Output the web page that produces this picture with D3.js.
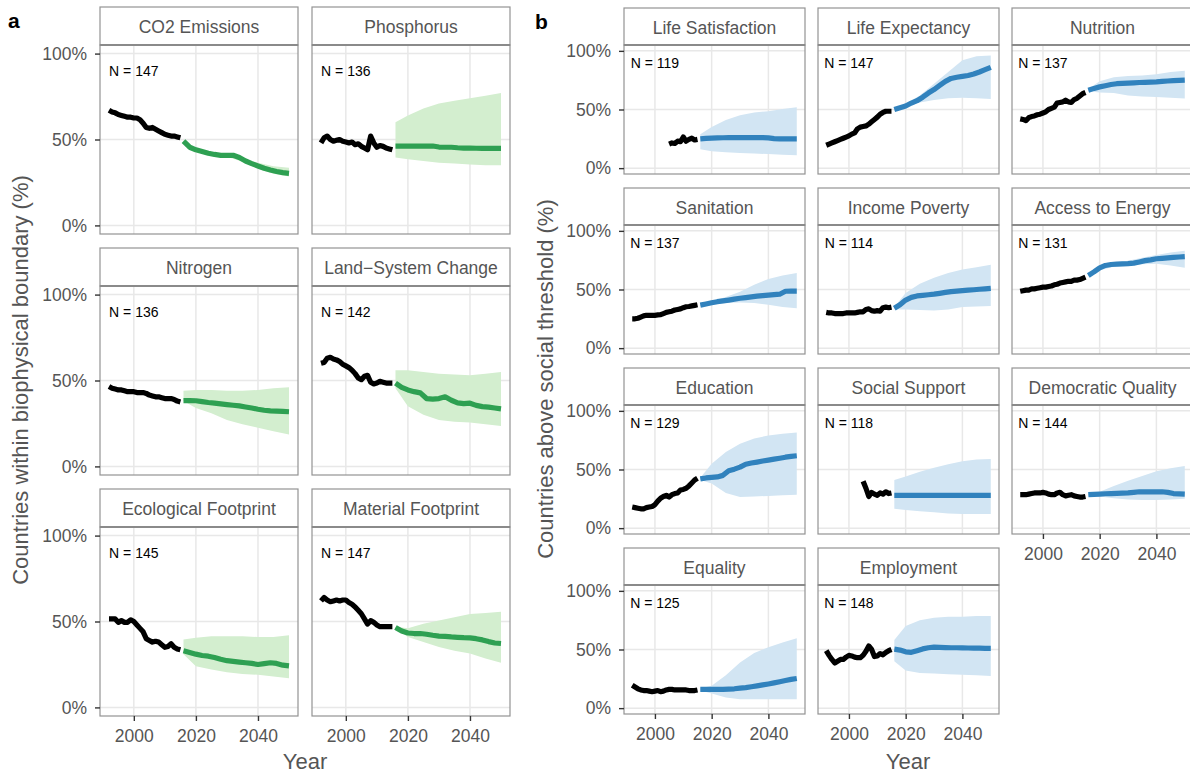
<!DOCTYPE html>
<html>
<head>
<meta charset="utf-8">
<script src="https://cdn.jsdelivr.net/npm/d3@7"></script>
<style>
  body { margin: 0; background: #fff; }
  svg text { font-family: "Liberation Sans", Arial, Helvetica, sans-serif; }
</style>
</head>
<body>
<svg id="chart" width="1190" height="773"></svg>
<script>
// ---- shared axis values -------------------------------------------------
const histYears = [1992,1993,1994,1995,1996,1997,1998,1999,2000,2001,2002,2003,
                   2004,2005,2006,2007,2008,2009,2010,2011,2012,2013,2014,2015];
const midYears  = [2016,2018,2020,2022,2024,2026,2028,2030,2032,2034,2036,2038,
                   2040,2042,2044,2046,2048,2050];
const bandYears = [2016,2020,2025,2030,2035,2040,2045,2050];
const yTickValues = [0, 50, 100];
const xTickValues = [2000, 2020, 2040];

// ---- a: biophysical boundaries -----------------------------------------
const bioNames = ["CO2 Emissions", "Phosphorus", "Nitrogen", "Land\u2212System Change",
                  "Ecological Footprint", "Material Footprint"];
const bioN = [147, 136, 136, 142, 145, 147];
const bioHist = [
  [67,66,65.5,64.5,64,63.5,63,63,62.5,62.5,61.5,59.5,57,56.5,57,56,55,54,53,52.5,52,52,51.5,51],
  [48,51,52,50,49,49.5,50,49,48.5,48,48.5,47,47.5,46,45,44,52,48,45.5,46.5,46,45,44.5,44],
  [46.5,45.5,45,44.5,44.5,44,43.5,43.5,43.5,43,43,43,42.5,41.5,41,40.5,40.5,40,39.5,39.5,39.5,39,38,37.5],
  [60,60.5,63,63.5,62.5,62,61,59.5,58.5,57.5,56,54,51.5,50.5,52.5,53,49,48,48.5,49.5,49,48.5,48.5,48.5],
  [51.5,51.5,51.5,49.5,50.5,49.5,49.5,51,50,48,46,44,40,39,38,38.5,38,36.5,35,35.5,37,35,34,33.5],
  [62,64,62.5,61.5,62,62.5,62,62.5,62.5,61,60,58.5,56.5,54.5,51.5,48.5,50.5,49.5,48,47,47,47,47,47]
];
const bioMid = [
  [49,45.5,44,43,42,41.3,40.8,40.8,40.8,39.5,37.5,36,34.6,33.3,32.3,31.4,30.7,30.3],
  [46.2,46.2,46.2,46.2,46.2,46.2,46.2,45.6,45.5,45.5,45.2,45,45,44.9,44.8,44.8,44.8,44.8],
  [38.3,38.3,38.2,37.7,37.2,36.8,36.4,36,35.6,35.2,34.6,34,33.3,32.7,32.3,32.2,32,31.8],
  [48.5,46,44.5,43.5,42.8,39.5,39.2,39.5,40.5,38.5,37,36.5,36.8,35.5,34.8,34.5,34,33.5],
  [33,32,31,30.2,29.8,29,28,27.2,26.8,26.4,26,25.6,25,25.5,26,25.6,24.6,24.2],
  [46.5,44.5,43.3,43,43,42.6,42,41.5,41.3,41,40.8,40.6,40.5,40,39.3,38.3,37.5,37.2]
];
const bioLo = [
  [48.5,43.5,41,40,37,33,30,28.5],
  [39.5,38.5,37.5,36.5,36,35.5,35,35],
  [38,34,31,27,24.5,22.5,20.5,18.5],
  [45.5,35,30,27,26,25.5,24.5,23.5],
  [31,24,22,20.5,19.5,19,18,17],
  [46,41,38,35.2,33,31.4,28.5,26]
];
const bioHi = [
  [49.5,44.5,42.5,42,39,36.5,34.5,33.5],
  [60,64,68,71,72.5,74,75.5,77],
  [44,44.5,44.5,44,44,44.5,45.5,46],
  [56,56,55,54,53.5,53,54,55],
  [39.5,40.5,41.4,41.4,41.4,41,41,42],
  [47,46,48.7,50.6,52.5,54.4,55,55.7]
];

// ---- b: social thresholds ----------------------------------------------
const socNames = ["Life Satisfaction", "Life Expectancy", "Nutrition",
                  "Sanitation", "Income Poverty", "Access to Energy",
                  "Education", "Social Support", "Democratic Quality",
                  "Equality", "Employment"];
const socN = [119, 147, 137, 137, 114, 131, 129, 118, 144, 125, 148];
const socHistStart = [2005, 1992, 1992, 1992, 1992, 1992, 1992, 2005, 1992, 1992, 1992];
const socHist = [
  [20.5,21.5,21,23,22.5,26.5,23,24.5,25.5,24,24.5],
  [19.5,20.5,21.5,22.5,23.5,24.5,25.5,26.5,27.5,29,30,33.5,35,35.5,36,37.5,39.5,41.5,43.5,46,47.5,48.5,48.5,48.5],
  [42,41.5,40.5,43,44,44.5,45.5,46,47,48,50,51,52,55.5,56,56.5,58,56.5,56,58.5,59.5,61.5,63.5,64.5],
  [25,25,25.5,26.5,27.5,28,28,28,28,28.3,28.5,29.5,30.5,31,31.5,32.5,33,33.5,34.5,35.3,35.5,36,36.5,37],
  [30.5,30,30,29.5,29.5,29.5,29.5,30,30,30,30,30.5,31,31,33,33.5,32,31.5,32,31.5,34.5,35,34.5,35],
  [48.5,49,49.5,49.5,50.5,50.5,51,51.5,52,52,52.5,53,54,54.5,55.5,56,56.5,57,57,58,58,58.5,59.5,60.5],
  [18,17.5,17,16.5,16.5,17.5,18,18.5,20,23,25.5,27,28,26.5,28.5,29.5,30,32.5,33,34,36,38.5,41,42.5],
  [40,34,27,30.5,29,28,30,29,31,29.5,30],
  [28.5,28.5,28.5,29,29.5,30,30,30,30.5,30,29,28.5,28.5,30,30.5,28.5,27.5,28,28.5,27.5,27,26.5,26.5,27],
  [19.5,18,16.5,15.5,15,15,14.5,14,14.5,15,14,14.5,15.5,16,16,15.5,15.5,15.5,15.5,15.5,15,15,15,15.5],
  [49,45,41.5,38.5,40,41.5,41.5,43.5,45,44.5,43.5,43,43,45,48.5,53,50,44,44.5,46.5,45.5,47.5,49,50]
];
const socMid = [
  [25,25.4,25.6,25.8,25.9,26,26,26,26,26,26,26,25.8,25.2,25,25,25,25],
  [50,51.5,53,55.5,57.5,60.5,64,67,70.5,74,76.5,77.5,78.2,79,80.3,82,84,86],
  [66.5,68,69.3,70.3,71.3,72,72.3,72.5,72.7,73,73.2,73.4,73.6,74,74.3,74.6,74.8,75],
  [36.7,37.7,38.7,39.6,40.3,41,41.8,42.5,43.1,43.7,44.3,44.8,45.2,45.6,46,48.5,48.6,48.6],
  [34,37,41,43.3,44.5,45,45.5,46,46.7,47.5,48.2,48.6,49,49.4,49.8,50.2,50.6,51],
  [62,65,68.5,70.5,71.3,71.6,71.8,72,72.5,73.5,74.6,75.3,76.2,76.6,77,77.4,77.7,78],
  [42,42.8,43.3,43.7,45,49,50.3,52,54.5,55.5,56.3,57.2,58,58.8,59.6,60.5,61.2,61.7],
  [28,28,28,28,28,28,28,28,28,28,28,28,28,28,28,28,28,28],
  [28.5,28.8,29,29.3,29.5,29.6,29.8,30,30.5,31,31,31,31,31,30.5,29.5,29.2,29],
  [16,16,16,16,16,16.2,16.5,17,17.5,18.2,19,19.8,20.6,21.5,22.5,23.5,24.5,25.3],
  [50.3,49.5,48,47.6,49,50.5,51.5,52,51.8,51.6,51.5,51.5,51.4,51.3,51.2,51.1,51,51]
];
const socLo = [
  [16,14.5,13.5,13,12.5,12,11.5,11],
  [49,52,56,58,59.5,60,59.5,59],
  [65.5,64.5,64,62,61,60.7,60,59.3],
  [36,37.5,38.5,39,38.5,37,35,34],
  [33,33,32.5,32,33,35,35.5,36],
  [61,66.5,69.5,70,71.5,72,70.5,68.5],
  [41,38,30,26.5,27,27.5,28,28.5],
  [16.5,15.5,14.5,13.5,12.5,12,12,12],
  [28,27,25.5,24.5,24,24,24.5,25],
  [15,12.5,9,7.5,7.5,7.5,7.5,7.5],
  [40,32,30,29.5,29,28.5,28,27.5]
];
const socHi = [
  [29,35,41,45,47.5,48.5,50.5,52],
  [50.5,55,62,72,82,92,95.5,96],
  [67.5,74,77.5,78.5,79,80,82,83],
  [37.5,40,43.5,48,54,59,62,64],
  [35,47,55,60,64,67,69,71],
  [63,70,73,74.5,77,79.5,81.5,83],
  [43,55,65,72,76.5,79,80.5,81.5],
  [41,44,48,51.5,54.5,57,58.5,59],
  [29.5,31,36,40.5,44.5,48.5,51,53],
  [17,19,28,39,47,52,56,59.5],
  [58,70,75,77,78,78,78.5,78.5]
];

// ---- drawing ------------------------------------------------------------
const svg = d3.select("#chart");
const GRID = "#e8e8e8", BORDER = "#939393", TEXT = "#555555";
const FONT_TICK = 17.5, FONT_STRIP = 17.5, LINE_W = 5.2;

function drawPanel(p) {
  const py0 = p.top + p.stripH, py1 = py0 + p.ph;
  const x = d3.scaleLinear().domain([1989.1, 2052.9]).range([p.x0, p.x0 + p.w]);
  const y = d3.scaleLinear().domain([-5, 105]).range([py1, py0]);
  const g = svg.append("g");

  // panel background and grid
  g.append("rect").attr("x", p.x0).attr("y", py0).attr("width", p.w).attr("height", p.ph)
    .attr("fill", "#fff");
  g.selectAll(".gy").data(yTickValues).join("line")
    .attr("x1", p.x0).attr("x2", p.x0 + p.w)
    .attr("y1", d => y(d)).attr("y2", d => y(d))
    .attr("stroke", GRID).attr("stroke-width", 1.5);
  g.selectAll(".gx").data(xTickValues).join("line")
    .attr("x1", d => x(d)).attr("x2", d => x(d))
    .attr("y1", py0).attr("y2", py1)
    .attr("stroke", GRID).attr("stroke-width", 1.5);

  // projection uncertainty band
  const band = bandYears.map((yr, i) => ({ yr, lo: p.lo[i], hi: p.hi[i] }));
  g.append("path").datum(band)
    .attr("fill", p.bandColor)
    .attr("d", d3.area().x(d => x(d.yr)).y0(d => y(d.lo)).y1(d => y(d.hi)));

  // observed series
  const hist = p.hist.map((v, i) => ({ yr: p.histStart + i, v }));
  const line = d3.line().x(d => x(d.yr)).y(d => y(d.v));
  g.append("path").datum(hist)
    .attr("fill", "none").attr("stroke", "#000").attr("stroke-width", LINE_W)
    .attr("stroke-linejoin", "round").attr("d", line);

  // projected median
  const mid = midYears.map((yr, i) => ({ yr, v: p.mid[i] }));
  g.append("path").datum(mid)
    .attr("fill", "none").attr("stroke", p.lineColor).attr("stroke-width", LINE_W)
    .attr("stroke-linejoin", "round").attr("d", line);

  // sample size label
  g.append("text").attr("x", x(2000)).attr("y", y(90))
    .attr("text-anchor", "middle").attr("dominant-baseline", "central")
    .attr("font-size", 14).attr("fill", "#000").text("N = " + p.n);

  // panel border
  g.append("rect").attr("x", p.x0).attr("y", py0).attr("width", p.w).attr("height", p.ph)
    .attr("fill", "none").attr("stroke", BORDER).attr("stroke-width", 1.2);

  // facet strip
  g.append("rect").attr("x", p.x0).attr("y", p.top).attr("width", p.w).attr("height", p.stripH)
    .attr("fill", "#fff").attr("stroke", BORDER).attr("stroke-width", 1.2);
  g.append("line").attr("x1", p.x0).attr("x2", p.x0 + p.w).attr("y1", py0).attr("y2", py0)
    .attr("stroke", "#8a8a8a").attr("stroke-width", 2.2);
  g.append("text").attr("x", p.x0 + p.w / 2).attr("y", p.top + p.stripH / 2 + 1)
    .attr("text-anchor", "middle").attr("dominant-baseline", "central")
    .attr("font-size", FONT_STRIP).attr("fill", TEXT).text(p.name);

  // axes
  if (p.showY) {
    const ax = g.append("g").attr("transform", `translate(${p.x0},0)`)
      .call(d3.axisLeft(y).tickValues(yTickValues).tickFormat(d => d + "%")
        .tickSize(5).tickSizeOuter(0).tickPadding(8));
    styleAxis(ax);
  }
  if (p.showX) {
    const ax = g.append("g").attr("transform", `translate(0,${py1})`)
      .call(d3.axisBottom(x).tickValues(xTickValues).tickFormat(d3.format("d"))
        .tickSize(5).tickSizeOuter(0).tickPadding(9));
    styleAxis(ax);
  }
}

function styleAxis(ax) {
  ax.select(".domain").remove();
  ax.selectAll(".tick line").attr("stroke", "#333").attr("stroke-width", 1.4);
  ax.selectAll(".tick text").attr("fill", TEXT).attr("font-size", FONT_TICK)
    .attr("font-family", "Liberation Sans, Arial, sans-serif");
}

const GREEN = "#2ea052", GREEN_BAND = "#d3eecf";
const BLUE = "#3182bd", BLUE_BAND = "#d2e5f3";

// layout a: 2 columns x 3 rows
const aCols = [100, 312], aRows = [7, 248, 489];
bioNames.forEach((name, i) => {
  const c = i % 2, r = Math.floor(i / 2);
  drawPanel({
    x0: aCols[c], top: aRows[r], w: 198, stripH: 38, ph: 189,
    name, n: bioN[i], hist: bioHist[i], histStart: 1992,
    mid: bioMid[i], lo: bioLo[i], hi: bioHi[i],
    lineColor: GREEN, bandColor: GREEN_BAND,
    showY: c === 0, showX: r === 2
  });
});

// layout b: 3 columns x 4 rows
const bCols = [624, 818, 1012], bRows = [8, 188, 368, 548];
socNames.forEach((name, i) => {
  const c = i % 3, r = Math.floor(i / 3);
  drawPanel({
    x0: bCols[c], top: bRows[r], w: 181, stripH: 37, ph: 129,
    name, n: socN[i], hist: socHist[i], histStart: socHistStart[i],
    mid: socMid[i], lo: socLo[i], hi: socHi[i],
    lineColor: BLUE, bandColor: BLUE_BAND,
    showY: c === 0, showX: r === 3 || (r === 2 && c === 2)
  });
});

// axis titles and panel letters
function title(x, y, txt, rotate) {
  svg.append("text").attr("x", x).attr("y", y)
    .attr("transform", rotate ? `rotate(-90,${x},${y})` : null)
    .attr("text-anchor", "middle").attr("dominant-baseline", "central")
    .attr("font-size", 22).attr("fill", TEXT).text(txt);
}
title(305, 761, "Year", false);
title(908, 761, "Year", false);
title(20, 380, "Countries within biophysical boundary (%)", true);
title(545, 379, "Countries above social threshold (%)", true);

svg.append("text").attr("x", 8).attr("y", 28).attr("font-size", 21)
  .attr("font-weight", "bold").attr("fill", "#000").text("a");
svg.append("text").attr("x", 535).attr("y", 29).attr("font-size", 21)
  .attr("font-weight", "bold").attr("fill", "#000").text("b");
</script>
</body>
</html>
